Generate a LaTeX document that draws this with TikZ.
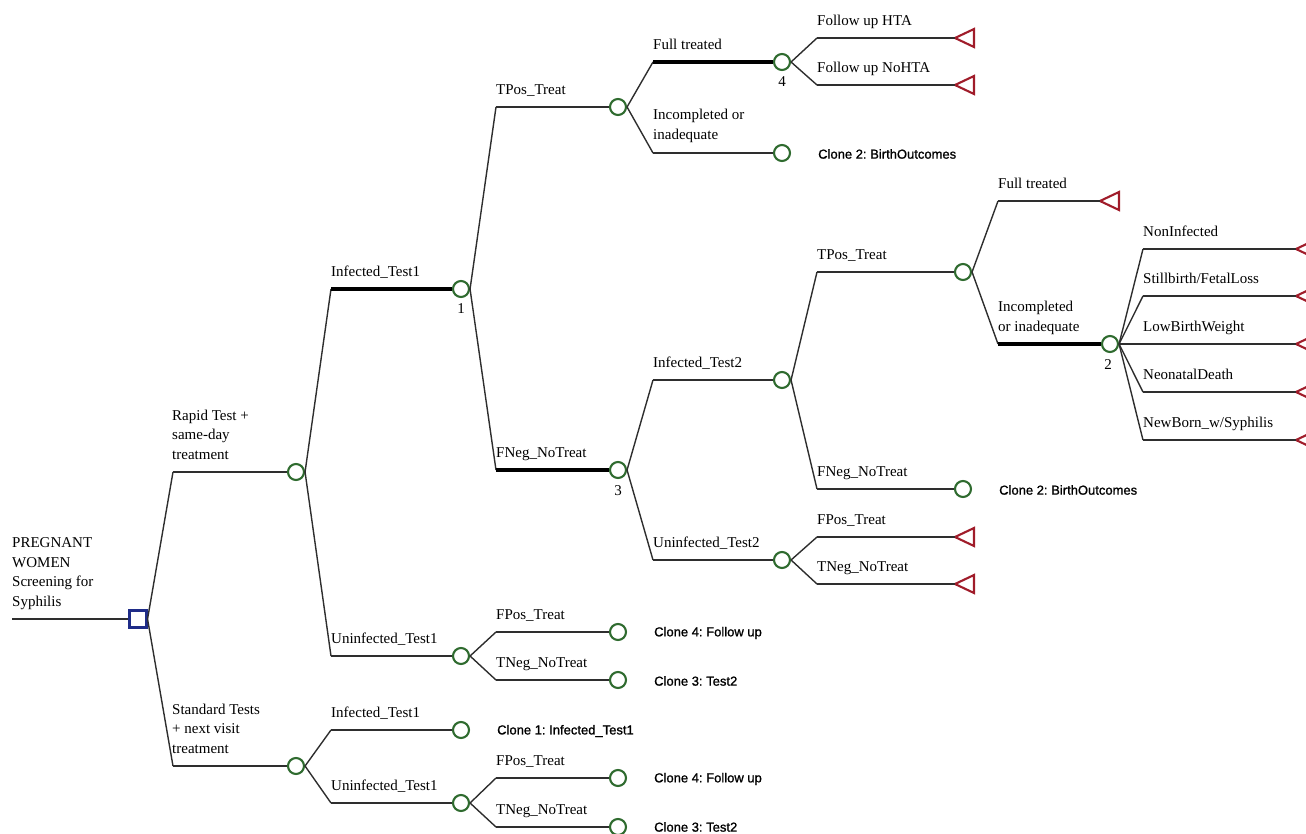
\documentclass[tikz,border=0pt]{standalone}
\usepackage{fontspec}
\setmainfont{Liberation Serif}
\newfontfamily\clonefont[FakeBold=1.2]{Liberation Sans}
\definecolor{cgreen}{HTML}{2F6B2F}
\definecolor{dblue}{HTML}{1F2C88}
\definecolor{tred}{HTML}{A01C2A}
\definecolor{lgray}{HTML}{2E2E2E}
\newcommand\brx[4][edge]{\draw[edge] (#2.east) -- (#3); \draw[#1] (#3) -- (#4);}
\begin{document}
\frenchspacing
\begin{tikzpicture}[x=1pt,y=-1pt,
  chance/.style={circle, draw=cgreen, line width=2.1pt, minimum size=16pt, inner sep=0pt},
  decision/.style={rectangle, draw=dblue, line width=2.1pt, minimum size=17pt, inner sep=0pt},
  edge/.style={draw=lgray, line width=1.4pt},
  opt/.style={draw=black, line width=3.6pt},
  lbl/.style={font=\fontsize{15}{19.5}\selectfont, anchor=base west, inner sep=0pt, align=left},
  clone/.style={font=\clonefont\fontsize{13}{15}\selectfont, anchor=west, inner sep=0pt},
  num/.style={font=\fontsize{15}{18}\selectfont, anchor=base, inner sep=0pt},
  term/.pic={\draw[tred, line width=2.1pt, line join=miter] (0,0) -- (19,-9) -- (19,9) -- cycle;}
]
\useasboundingbox (0,0) rectangle (1306,833);

% ---------- nodes ----------
\coordinate (r0) at (12,619);
\node[decision] (d0) at (138,619) {};
\node[chance] (rap) at (296,472) {};
\node[chance] (std) at (296,766) {};
\node[chance] (inf1) at (461,289) {};
\node[chance] (un1) at (461,656) {};
\node[chance] (inf1b) at (461,730) {};
\node[chance] (un1b) at (461,803) {};
\node[chance] (tp1) at (618,107) {};
\node[chance] (fn1) at (618,470) {};
\node[chance] (fp1) at (618,632) {};
\node[chance] (tn1) at (618,680) {};
\node[chance] (fp2) at (618,778) {};
\node[chance] (tn2) at (618,827) {};
\node[chance] (ft1) at (782,62) {};
\node[chance] (inc1) at (782,153) {};
\node[chance] (inf2) at (782,380) {};
\node[chance] (un2) at (782,560) {};
\node[chance] (tp2) at (963,272) {};
\node[chance] (fn2) at (963,489) {};
\node[chance] (inc2) at (1110,344) {};

\coordinate (t1) at (955,38);
\coordinate (t2) at (955,85);
\coordinate (t3) at (955,537);
\coordinate (t4) at (955,584);
\coordinate (t5) at (1100,201);
\coordinate (t6) at (1296,249);
\coordinate (t7) at (1296,296);
\coordinate (t8) at (1296,344);
\coordinate (t9) at (1296,392);
\coordinate (t10) at (1296,440);
\foreach \t in {t1,t2,t3,t4,t5,t6,t7,t8,t9,t10} {\pic at (\t) {term};}

% ---------- corners ----------
\coordinate (k1) at (173,472);
\coordinate (k2) at (173,766);
\coordinate (k3) at (331,289);
\coordinate (k4) at (331,656);
\coordinate (k5) at (331,730);
\coordinate (k6) at (331,803);
\coordinate (k7) at (496,107);
\coordinate (k8) at (496,470);
\coordinate (k9) at (496,632);
\coordinate (k10) at (496,680);
\coordinate (k11) at (496,778);
\coordinate (k12) at (496,827);
\coordinate (k13) at (653,62);
\coordinate (k14) at (653,153);
\coordinate (k15) at (817,38);
\coordinate (k16) at (817,85);
\coordinate (k17) at (653,380);
\coordinate (k18) at (653,560);
\coordinate (k19) at (817,537);
\coordinate (k20) at (817,584);
\coordinate (k21) at (817,272);
\coordinate (k22) at (817,489);
\coordinate (k23) at (998,201);
\coordinate (k24) at (998,344);
\coordinate (k25) at (1143,249);
\coordinate (k26) at (1143,296);
\coordinate (k27) at (1143,344);
\coordinate (k28) at (1143,392);
\coordinate (k29) at (1143,440);

% ---------- connectors ----------
\draw[edge] (r0) -- (d0.west);
\brx{d0}{k1}{rap.west}
\brx{d0}{k2}{std.west}
\brx[opt]{rap}{k3}{inf1.west}
\brx{rap}{k4}{un1.west}
\brx{std}{k5}{inf1b.west}
\brx{std}{k6}{un1b.west}
\brx{inf1}{k7}{tp1.west}
\brx[opt]{inf1}{k8}{fn1.west}
\brx{un1}{k9}{fp1.west}
\brx{un1}{k10}{tn1.west}
\brx{un1b}{k11}{fp2.west}
\brx{un1b}{k12}{tn2.west}
\brx[opt]{tp1}{k13}{ft1.west}
\brx{tp1}{k14}{inc1.west}
\brx{ft1}{k15}{t1}
\brx{ft1}{k16}{t2}
\brx{fn1}{k17}{inf2.west}
\brx{fn1}{k18}{un2.west}
\brx{un2}{k19}{t3}
\brx{un2}{k20}{t4}
\brx{inf2}{k21}{tp2.west}
\brx{inf2}{k22}{fn2.west}
\brx{tp2}{k23}{t5}
\brx[opt]{tp2}{k24}{inc2.west}
\brx{inc2}{k25}{t6}
\brx{inc2}{k26}{t7}
\brx{inc2}{k27}{t8}
\brx{inc2}{k28}{t9}
\brx{inc2}{k29}{t10}

% ---------- labels (multi-line: anchored at last baseline) ----------
\node[lbl] (lroot) at (12,606) {PREGNANT\\WOMEN\\Screening for\\Syphilis};
\node[lbl] (lrap) at (172,459) {Rapid Test +\\same-day\\treatment};
\node[lbl] (lstd) at (172,753) {Standard Tests\\+ next visit\\treatment};
\node[lbl] (l1) at (331,276) {Infected\_Test1};
\node[lbl] (l2) at (331,643) {Uninfected\_Test1};
\node[lbl] (l3) at (331,717) {Infected\_Test1};
\node[lbl] (l4) at (331,790) {Uninfected\_Test1};
\node[lbl] (l5) at (496,94) {TPos\_Treat};
\node[lbl] (l6) at (496,457) {FNeg\_NoTreat};
\node[lbl] (l7) at (496,619) {FPos\_Treat};
\node[lbl] (l8) at (496,667) {TNeg\_NoTreat};
\node[lbl] (l9) at (496,765) {FPos\_Treat};
\node[lbl] (l10) at (496,814) {TNeg\_NoTreat};
\node[lbl] (l11) at (653,49) {Full treated};
\node[lbl] (l12) at (653,139) {Incompleted or\\inadequate};
\node[lbl] (l13) at (817,25) {Follow up HTA};
\node[lbl] (l14) at (817,72) {Follow up NoHTA};
\node[lbl] (l15) at (653,367) {Infected\_Test2};
\node[lbl] (l16) at (653,547) {Uninfected\_Test2};
\node[lbl] (l17) at (817,524) {FPos\_Treat};
\node[lbl] (l18) at (817,571) {TNeg\_NoTreat};
\node[lbl] (l19) at (817,259) {TPos\_Treat};
\node[lbl] (l20) at (817,476) {FNeg\_NoTreat};
\node[lbl] (l21) at (998,188) {Full treated};
\node[lbl] (l22) at (998,331) {Incompleted\\or inadequate};
\node[lbl] (l23) at (1143,236) {NonInfected};
\node[lbl] (l24) at (1143,283) {Stillbirth/FetalLoss};
\node[lbl] (l25) at (1143,331) {LowBirthWeight};
\node[lbl] (l26) at (1143,379) {NeonatalDeath};
\node[lbl] (l27) at (1143,427) {NewBorn\_w/Syphilis};

\node[num] (n1) at (461,313) {1};
\node[num] (n3) at (618,495) {3};
\node[num] (n4) at (782,86) {4};
\node[num] (n2) at (1108,369) {2};

\node[clone] (c1) at (818,154) {Clone 2: BirthOutcomes};
\node[clone] (c2) at (999,490) {Clone 2: BirthOutcomes};
\node[clone] (c3) at (654,633) {Clone 4: Follow up};
\node[clone] (c4) at (654,681) {Clone 3: Test2};
\node[clone] (c5) at (497,731) {Clone 1: Infected\_Test1};
\node[clone] (c6) at (654,779) {Clone 4: Follow up};
\node[clone] (c7) at (654,827) {Clone 3: Test2};
\end{tikzpicture}
\end{document}
